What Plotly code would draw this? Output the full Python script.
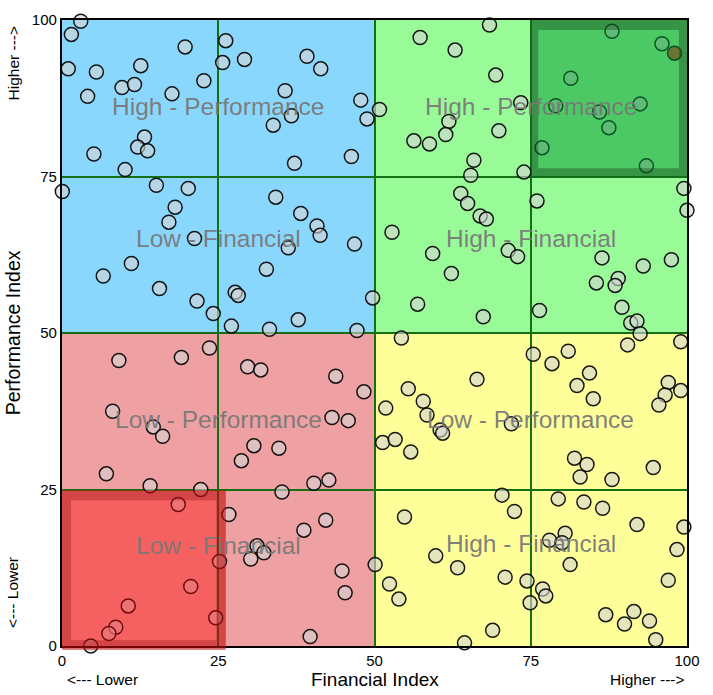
import plotly.graph_objects as go

# ---- data ----
fin_blue = [3.0,1.5,1.0,5.5,12.6,19.7,26.2,25.7,29.2,39.2,41.4,9.6,11.6,22.7,4.1,17.6,35.7,36.7,33.8,47.8,48.8,
            13.2,12.1,13.7,5.1,10.1,37.2,46.3,0.05,15.1,20.2,18.1,17.1,21.2,11.1,6.6,15.6,21.6,24.2,27.1,33.2,
            34.2,38.2,40.8,41.3,36.2,46.8,32.7,27.7,28.2,37.8,47.2,49.7]
perf_blue = [99.8,97.7,92.2,91.7,92.7,95.7,96.7,93.2,93.7,94.2,92.2,89.2,89.7,90.3,87.8,88.2,88.7,84.7,83.2,87.2,84.2,
             81.3,79.7,79.1,78.6,76.1,77.1,78.2,72.6,73.6,73.1,70.1,67.7,65.1,61.1,59.1,57.1,55.1,53.1,51.1,50.6,
             71.7,69.1,67.1,65.6,63.6,64.2,60.2,56.5,56.0,52.1,50.4,55.6]

fin_green = [50.8,68.4,57.3,62.9,88.0,96.0,69.4,81.4,73.4,79.0,92.5,86.0,61.9,61.4,69.9,87.5,56.3,58.8,76.8,65.9,
             93.5,65.4,73.9,99.5,100.0,63.8,64.9,66.9,67.9,76.0,52.8,59.3,71.4,72.9,62.3,86.4,93.0,97.5,85.5,89.0,
             88.5,56.9,67.4,76.4,89.6,91.0,92.0,92.5]
perf_green = [85.7,99.2,97.2,95.2,98.2,96.2,91.2,90.7,86.8,86.3,86.6,85.3,83.8,81.7,82.3,82.8,80.7,80.2,79.6,77.6,
              76.7,75.2,75.7,73.1,69.6,72.3,70.7,68.7,68.2,71.1,66.1,62.7,63.2,62.2,59.5,62.0,60.7,61.7,58.0,58.7,
              57.6,54.6,52.6,53.6,54.1,51.6,51.9,49.9]

fin_red = [9.1,19.1,23.6,29.7,31.8,43.8,48.3,8.1,14.6,16.1,43.2,45.8,30.7,34.7,28.7,7.1,14.1,22.2,40.3,42.7,35.2,
           18.6,26.7,42.2,38.7,31.2,32.3,30.2,25.2,44.8,45.3,20.6,10.6,8.6,7.5,4.6,24.6,39.7]
perf_red = [45.6,46.1,47.6,44.6,44.1,43.1,40.6,37.5,35.0,33.5,36.5,36.0,32.0,31.6,29.6,27.5,25.6,25.0,26.0,26.5,24.6,
            22.6,21.0,20.1,18.5,16.0,14.9,13.9,13.5,12.0,8.5,9.5,6.4,3.0,2.0,0.0,4.5,1.5]

fin_yellow = [54.3,75.4,78.4,81.0,90.5,99.0,66.4,55.4,57.8,51.8,58.4,60.5,60.9,51.3,53.3,55.8,71.9,84.4,82.4,85.0,
              97.0,96.5,99.0,95.5,82.0,84.0,82.9,88.0,94.6,70.4,72.4,79.4,83.5,86.5,54.8,92.0,99.5,80.5,78.0,80.0,
              98.4,81.3,59.8,50.1,63.3,52.4,53.9,70.9,74.4,76.9,77.4,74.9,97.0,87.0,90.0,91.5,94.0,95.0,68.9,64.4]
perf_yellow = [49.2,46.6,45.1,47.1,48.1,48.6,42.6,41.1,39.1,38.0,36.9,34.5,34.0,32.5,33.0,31.0,35.5,43.6,41.6,39.5,
               42.1,40.1,40.8,38.5,30.0,29.0,27.0,26.6,28.5,24.1,21.5,23.5,23.0,22.0,20.6,19.4,19.0,18.0,16.9,16.5,
               15.4,13.0,14.4,13.0,12.5,9.9,7.5,11.0,10.4,9.1,8.0,6.9,10.5,5.0,3.5,5.5,4.0,1.0,2.5,0.5]

highlight_fin = [98.0]
highlight_perf = [94.7]

tick_vals = [0, 25, 50, 75, 100]
tick_text = ["0", "25", "50", "75", "100"]

quad_labels = ["High - Performance", "Low - Financial", "High - Performance", "High - Financial",
               "Low - Performance", "Low - Financial", "Low - Performance", "High - Financial"]
quad_label_x = [25, 25, 75, 75, 25, 25, 75, 75]
quad_label_y = [86.2, 65.1, 86.2, 65.1, 36.2, 16.1, 36.2, 16.3]

# quadrants: x0, x1, y0, y1, colour
quadrants = [
    (0, 50, 50, 100, "#8AD7FE"),
    (50, 100, 50, 100, "#98FB98"),
    (0, 50, 0, 50, "#EFA0A2"),
    (50, 100, 0, 50, "#FFFF99"),
]

fin_all = fin_blue + fin_green + fin_red + fin_yellow
perf_all = perf_blue + perf_green + perf_red + perf_yellow

FONT = "Arial, Liberation Sans, sans-serif"

fig = go.Figure()

fig.add_trace(go.Scatter(
    x=fin_all, y=perf_all, mode="markers", cliponaxis=False,
    marker=dict(size=14, color="rgba(211,211,211,0.6)",
                line=dict(color="rgba(0,0,0,0.9)", width=1.5)),
    hoverinfo="skip", showlegend=False))

fig.add_trace(go.Scatter(
    x=highlight_fin, y=highlight_perf, mode="markers", cliponaxis=False,
    marker=dict(size=14, color="rgba(230,30,20,0.75)",
                line=dict(color="rgba(0,0,0,0.9)", width=1.5)),
    hoverinfo="skip", showlegend=False))

shapes = []
for x0, x1, y0, y1, c in quadrants:
    shapes.append(dict(type="rect", xref="x", yref="y", x0=x0, x1=x1, y0=y0, y1=y1,
                       fillcolor=c, line=dict(width=0), layer="below"))

def ring_path(o, i):
    # outer clockwise, inner counter-clockwise (domain units)
    ox0, oy0, ox1, oy1 = o
    ix0, iy0, ix1, iy1 = i
    return (f"M{ox0},{oy0} L{ox0},{oy1} L{ox1},{oy1} L{ox1},{oy0} Z "
            f"M{ix0},{iy0} L{ix1},{iy0} L{ix1},{iy1} L{ix0},{iy1} Z")

# highlight boxes (outer, inner) in axis units
green_outer = (75.0, 75.0, 100.0, 100.0)
green_inner = (76.2, 76.3, 98.7, 98.4)
red_outer = (0.0, -0.6, 26.2, 24.9)
red_inner = (1.45, 0.9, 24.7, 23.3)

def dom(b):
    return tuple(v / 100.0 for v in b)

for outer, inner, fill, ring in [
    (green_outer, green_inner, "rgba(0,150,50,0.5)", "rgba(20,60,20,0.38)"),
    (red_outer, red_inner, "rgba(255,0,0,0.4)", "rgba(150,20,20,0.35)"),
]:
    o = dom(outer)
    i = dom(inner)
    shapes.append(dict(type="rect", xref="x domain", yref="y domain",
                       x0=o[0], y0=o[1], x1=o[2], y1=o[3],
                       fillcolor=fill, line=dict(width=0), layer="above"))
    shapes.append(dict(type="path", xref="x domain", yref="y domain",
                       path=ring_path(o, i), fillcolor=ring, line=dict(width=0), layer="above"))

annotations = []
for t, x, y in zip(quad_labels, quad_label_x, quad_label_y):
    annotations.append(dict(text=t, x=x, y=y, xref="x", yref="y", showarrow=False,
                            font=dict(family=FONT, size=24.5, color="rgba(120,120,120,0.95)")))

annotations += [
    dict(text="Financial Index", x=0.5, y=-0.053, xref="paper", yref="paper", showarrow=False,
         xanchor="center", yanchor="middle", font=dict(family=FONT, size=19, color="black")),
    dict(text="Performance Index", x=-0.078, y=0.5, xref="paper", yref="paper", showarrow=False,
         textangle=-90, xanchor="center", yanchor="middle", font=dict(family=FONT, size=19.5, color="black")),
    dict(text="<--- Lower", x=0.004, y=-0.053, xref="paper", yref="paper", showarrow=False,
         xanchor="left", yanchor="middle", font=dict(family=FONT, size=15.5, color="black")),
    dict(text="Higher --->", x=1.0, y=-0.053, xref="paper", yref="paper", showarrow=False,
         xanchor="right", yanchor="middle", font=dict(family=FONT, size=15.5, color="black")),
    dict(text="Higher --->", x=-0.078, y=0.931, xref="paper", yref="paper", showarrow=False,
         textangle=-90, xanchor="center", yanchor="middle", font=dict(family=FONT, size=15.5, color="black")),
    dict(text="<--- Lower", x=-0.078, y=0.085, xref="paper", yref="paper", showarrow=False,
         textangle=-90, xanchor="center", yanchor="middle", font=dict(family=FONT, size=15.5, color="black")),
]

axis_common = dict(range=[0, 100], tickvals=tick_vals, ticktext=tick_text, showgrid=True,
                   gridcolor="#157015", gridwidth=1.6, showline=True, linecolor="black", linewidth=2.2,
                   mirror=True, zeroline=False, ticks="", tickfont=dict(family=FONT, size=15, color="black"),
                   fixedrange=True)

fig.update_layout(
    width=713, height=695,
    margin=dict(l=62, r=26, t=20, b=49),
    paper_bgcolor="white", plot_bgcolor="white",
    xaxis=axis_common, yaxis=axis_common,
    shapes=shapes, annotations=annotations, showlegend=False,
)

fig.write_html("out.html", config={"displayModeBar": False},
               post_script="document.body.style.margin='0';")
